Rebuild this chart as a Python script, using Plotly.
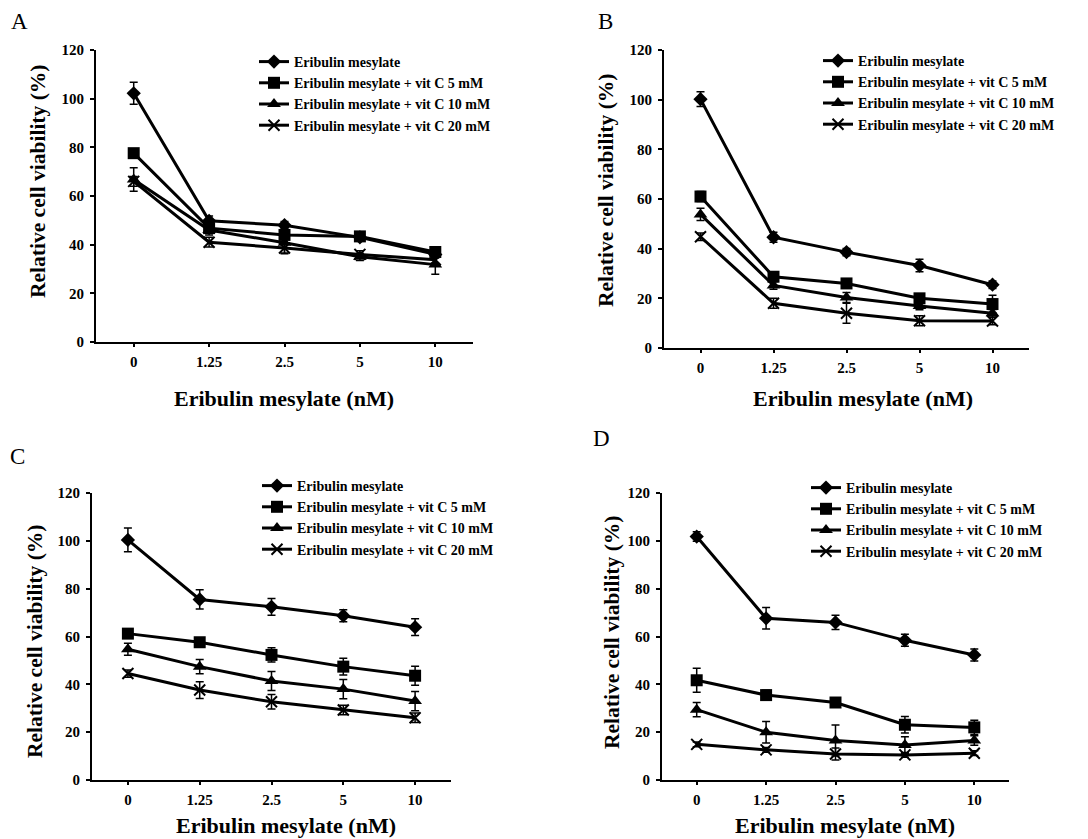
import plotly.graph_objects as go

doses = ["0", "1.25", "2.5", "5", "10"]
series_names = [
    "Eribulin mesylate",
    "Eribulin mesylate + vit C 5 mM",
    "Eribulin mesylate + vit C 10 mM",
    "Eribulin mesylate + vit C 20 mM",
]
y_ticks = [0, 20, 40, 60, 80, 100, 120]
panel_labels = ["A", "B", "C", "D"]
x_title = "Eribulin mesylate (nM)"
y_title = "Relative cell viability (%)"

# Panel A
a_eri = [102.2, 49.8, 48.0, 43.0, 36.0]
a_eri_err = [4.5, 2.0, 1.5, 1.5, 1.5]
a_c5 = [77.6, 46.8, 44.0, 43.4, 37.0]
a_c5_err = [1.5, 1.5, 1.5, 1.5, 1.5]
a_c10 = [66.8, 46.0, 40.8, 35.0, 31.8]
a_c10_err = [4.8, 2.0, 4.5, 1.5, 4.0]
a_c20 = [66.0, 41.0, 38.6, 36.0, 33.8]
a_c20_err = [2.0, 2.0, 2.0, 1.5, 1.5]

# Panel B
b_eri = [100.2, 44.6, 38.6, 33.2, 25.5]
b_eri_err = [3.0, 2.0, 1.5, 2.5, 1.5]
b_c5 = [61.0, 28.7, 26.0, 20.0, 17.7]
b_c5_err = [2.0, 1.5, 1.5, 1.5, 3.5]
b_c10 = [53.8, 25.2, 20.3, 16.9, 14.0]
b_c10_err = [2.5, 1.5, 2.0, 1.5, 1.5]
b_c20 = [44.8, 18.0, 14.0, 11.0, 10.9]
b_c20_err = [1.5, 2.0, 4.0, 2.0, 1.5]

# Panel C
c_eri = [100.4, 75.5, 72.4, 68.7, 63.9]
c_eri_err = [5.0, 4.0, 3.5, 2.5, 3.5]
c_c5 = [61.2, 57.6, 52.3, 47.4, 43.6]
c_c5_err = [1.5, 1.5, 3.0, 3.5, 4.0]
c_c10 = [54.7, 47.4, 41.4, 38.0, 33.0]
c_c10_err = [2.5, 3.0, 4.0, 4.0, 4.0]
c_c20 = [44.5, 37.6, 32.7, 29.3, 26.0]
c_c20_err = [1.5, 3.5, 3.0, 2.0, 2.0]

# Panel D
d_eri = [101.8, 67.6, 65.9, 58.4, 52.3]
d_eri_err = [2.0, 4.5, 3.0, 2.5, 2.5]
d_c5 = [41.7, 35.5, 32.4, 23.1, 22.0]
d_c5_err = [5.0, 2.0, 1.5, 3.5, 3.0]
d_c10 = [29.4, 20.0, 16.5, 14.6, 16.5]
d_c10_err = [3.0, 4.5, 6.5, 3.5, 2.0]
d_c20 = [14.9, 12.6, 10.9, 10.5, 11.2]
d_c20_err = [1.0, 1.0, 2.5, 1.0, 1.0]

panels = [
    ([a_eri, a_c5, a_c10, a_c20], [a_eri_err, a_c5_err, a_c10_err, a_c20_err]),
    ([b_eri, b_c5, b_c10, b_c20], [b_eri_err, b_c5_err, b_c10_err, b_c20_err]),
    ([c_eri, c_c5, c_c10, c_c20], [c_eri_err, c_c5_err, c_c10_err, c_c20_err]),
    ([d_eri, d_c5, d_c10, d_c20], [d_eri_err, d_c5_err, d_c10_err, d_c20_err]),
]

W, H = 1088, 839
OFF = 8  # page body margin offset


def fx(px):
    return (px - OFF) / W


def fy(py):
    return 1 - (py - OFF) / H


# pixel boxes (screen coords): (left, right, top(=120), bottom(=0))
boxes = [
    (96, 473, 50, 342),
    (664, 1029, 50, 348),
    (92, 451, 493, 780),
    (662, 1009, 493, 780),
]
legend_pos = [(254, 46), (818, 45), (257, 470), (806, 472)]
letter_pos = [(19, 22), (605, 22), (17, 456), (601, 438)]
xtitle_pos = [(284, 398), (863, 398), (286, 825), (845, 825)]
ytitle_pos = [(38, 182), (606, 191), (35, 642), (612, 633)]

symbols = ["diamond", "square", "triangle-up", "x-thin-open"]
sizes = [11, 12, 12, 11]

FONT = "Liberation Serif, Times New Roman, serif"

fig = go.Figure()
layout = dict(
    width=W, height=H,
    margin=dict(l=0, r=0, t=0, b=0, pad=0, autoexpand=False),
    paper_bgcolor="white", plot_bgcolor="white",
    showlegend=True,
    font=dict(family=FONT, color="black"),
)
annotations = []

for i, (vals, errs) in enumerate(panels):
    n = "" if i == 0 else str(i + 1)
    xa, ya = "x" + n, "y" + n
    leg = "legend" + n
    for k in range(4):
        fig.add_trace(go.Scatter(
            x=doses, y=vals[k], name=series_names[k],
            mode="lines+markers",
            xaxis=xa, yaxis=ya, legend=leg,
            line=dict(color="black", width=3),
            marker=dict(symbol=symbols[k], size=sizes[k], color="black",
                        line=dict(color="black", width=2 if k == 3 else 0)),
            error_y=dict(type="data", array=errs[k], color="black",
                         thickness=1.5, width=4),
        ))
    l, r, t, b = boxes[i]
    layout["xaxis" + n] = dict(
        domain=[fx(l), fx(r)], anchor=ya, type="category",
        range=[-0.5, 4.5], showline=True, linecolor="black", linewidth=2.2,
        ticks="outside", ticklen=3, tickwidth=2, tickcolor="black",
        showgrid=False, zeroline=False, automargin=False,
        ticklabelstandoff=2,
        tickfont=dict(family=FONT, size=15, color="black", weight="bold"),
    )
    layout["yaxis" + n] = dict(
        domain=[fy(b), fy(t)], anchor=xa,
        range=[0, 120], tickvals=y_ticks, showline=True, linecolor="black",
        linewidth=2.2, ticks="outside", ticklen=4, tickwidth=2,
        tickcolor="black", showgrid=False, zeroline=False, automargin=False,
        ticklabelstandoff=3,
        tickfont=dict(family=FONT, size=15, color="black", weight="bold"),
    )
    lx, ly = legend_pos[i]
    layout[leg] = dict(
        x=fx(lx), y=fy(ly), xanchor="left", yanchor="top",
        bgcolor="rgba(0,0,0,0)", tracegroupgap=0, itemwidth=30,
        font=dict(family=FONT, size=14, color="black", weight="bold"),
    )
    tx, ty = xtitle_pos[i]
    annotations.append(dict(
        text="<b>" + x_title + "</b>", xref="paper", yref="paper",
        x=fx(tx), y=fy(ty), showarrow=False,
        font=dict(family=FONT, size=22, color="black"),
        xanchor="center", yanchor="middle",
    ))
    vx, vy = ytitle_pos[i]
    annotations.append(dict(
        text="<b>" + y_title + "</b>", xref="paper", yref="paper",
        x=fx(vx), y=fy(vy), showarrow=False, textangle=-90,
        font=dict(family=FONT, size=21.5, color="black"),
        xanchor="center", yanchor="middle",
    ))
    px, py = letter_pos[i]
    annotations.append(dict(
        text=panel_labels[i], xref="paper", yref="paper",
        x=fx(px), y=fy(py), showarrow=False,
        font=dict(family=FONT, size=23, color="black"),
        xanchor="center", yanchor="middle",
    ))

layout["annotations"] = annotations
fig.update_layout(**layout)
fig.write_html("out.html")
